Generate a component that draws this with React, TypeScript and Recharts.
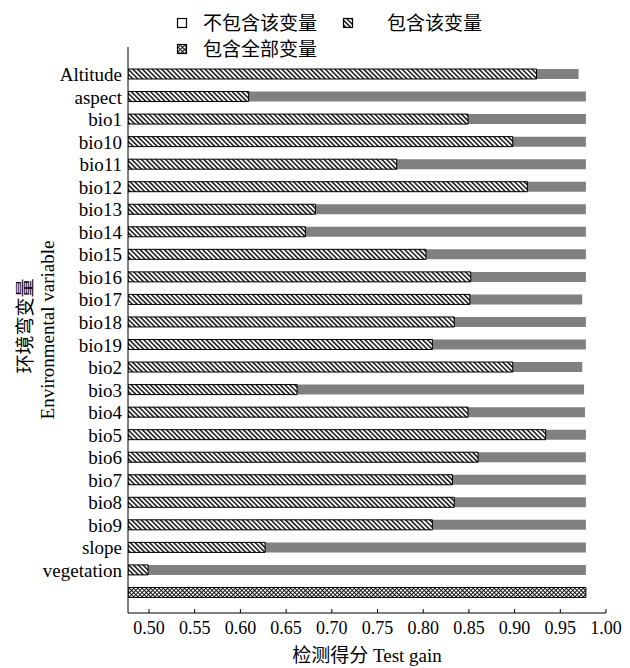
import React from 'react';
import { BarChart, Bar, XAxis, YAxis } from 'recharts';

document.body.style.margin = '0';

// Jackknife of environmental variables (test gain)
const variables = [
  'Altitude', 'aspect', 'bio1', 'bio10', 'bio11', 'bio12', 'bio13', 'bio14', 'bio15', 'bio16',
  'bio17', 'bio18', 'bio19', 'bio2', 'bio3', 'bio4', 'bio5', 'bio6', 'bio7', 'bio8', 'bio9',
  'slope', 'vegetation',
];
// 不包含该变量 (without variable)
const withoutGain = [
  0.970, 0.978, 0.978, 0.978, 0.978, 0.978, 0.978, 0.978, 0.978, 0.978,
  0.974, 0.978, 0.978, 0.974, 0.976, 0.977, 0.978, 0.978, 0.978, 0.978, 0.978,
  0.978, 0.978,
];
// 包含该变量 (with only variable)
const onlyGain = [
  0.924, 0.609, 0.849, 0.898, 0.771, 0.914, 0.682, 0.671, 0.803, 0.852,
  0.851, 0.834, 0.810, 0.898, 0.662, 0.849, 0.934, 0.860, 0.832, 0.834, 0.810,
  0.627, 0.499,
];
// 包含全部变量 (all variables)
const allGain = 0.978;
const xTicks = [0.5, 0.55, 0.6, 0.65, 0.7, 0.75, 0.8, 0.85, 0.9, 0.95, 1.0];

const legendItems = [
  { label: '不包含该变量', fill: '#fff', x: 177, y: 18, textX: 203 },
  { label: '包含该变量', fill: 'url(#lg-hatch)', x: 343, y: 18, textX: 387 },
  { label: '包含全部变量', fill: 'url(#lg-cross)', x: 177, y: 44, textX: 203 },
];

const data = [
  ...variables.map((name, i) => ({ name, without: withoutGain[i], only: onlyGain[i], all: null })),
  { name: '', without: null, only: null, all: allGain },
];

const FONT = "'Liberation Serif', 'Noto Sans CJK SC', serif";

function Patterns({ prefix }: { prefix: string }) {
  return (
    <defs>
      <pattern id={`${prefix}-hatch`} width="3.4" height="3.4" patternUnits="userSpaceOnUse" patternTransform="rotate(-45)">
        <rect width="3.4" height="3.4" fill="#fff" />
        <line x1="0.8" y1="0" x2="0.8" y2="3.4" stroke="#000" strokeWidth="1.4" />
      </pattern>
      <pattern id={`${prefix}-cross`} width="3" height="3" patternUnits="userSpaceOnUse" patternTransform="rotate(45)">
        <rect width="3" height="3" fill="#fff" />
        <line x1="0.5" y1="0" x2="0.5" y2="3" stroke="#000" strokeWidth="0.9" />
        <line x1="0" y1="0.5" x2="3" y2="0.5" stroke="#000" strokeWidth="0.9" />
      </pattern>
    </defs>
  );
}

function YTitle() {
  const txt = { fontFamily: FONT, fontSize: 19, fill: '#000' };
  return (
    <g>
      <text x={25} y={326} transform="rotate(-90 25 326)" textAnchor="middle" dominantBaseline="central" style={txt}>环境弯变量</text>
      <text x={47} y={330} transform="rotate(-90 47 330)" textAnchor="middle" dominantBaseline="central" style={txt}>Environmental variable</text>
    </g>
  );
}

export default function App() {
  return (
    <div style={{ position: 'relative', width: 630, height: 668, background: '#fff', fontFamily: FONT }}>
      <BarChart
        width={630}
        height={668}
        data={data}
        layout="vertical"
        margin={{ top: 47, right: 24, bottom: 0, left: 0 }}
        barGap={-10}
      >
        <Patterns prefix="ch" />
        <XAxis
          type="number"
          domain={[0.477, 1]}
          ticks={xTicks}
          allowDataOverflow
          tickFormatter={(v: number) => v.toFixed(2)}
          height={55}
          stroke="#000"
          tickSize={-4}
          tickMargin={12}
          tick={{ fill: '#000', fontSize: 18, fontFamily: FONT, style: { fontFamily: FONT } }}
          label={{ value: '检测得分 Test gain', position: 'insideBottom', offset: 6, fill: '#000', fontSize: 19, fontFamily: FONT, style: { fontFamily: FONT } }}
        />
        <YAxis
          type="category"
          dataKey="name"
          width={128}
          interval={0}
          padding={{ top: 16, bottom: 9 }}
          stroke="#000"
          tickLine={false}
          tickSize={0}
          tickMargin={6}
          tick={{ fill: '#000', fontSize: 19, fontFamily: FONT, style: { fontFamily: FONT } }}
          label={<YTitle />}
        />
        <Bar dataKey="without" barSize={10} fill="#808080" isAnimationActive={false} />
        <Bar dataKey="only" barSize={10} fill="url(#ch-hatch)" stroke="#000" strokeWidth={1} isAnimationActive={false} />
        <Bar dataKey="all" barSize={10} fill="url(#ch-cross)" stroke="#000" strokeWidth={1} isAnimationActive={false} />
      </BarChart>

      <svg width={630} height={60} style={{ position: 'absolute', left: 0, top: 0, pointerEvents: 'none' }}>
        <Patterns prefix="lg" />
        {legendItems.map((it) => (
          <g key={it.label}>
            <rect x={it.x + 0.5} y={it.y + 0.5} width={9} height={9} fill={it.fill} stroke="#000" strokeWidth={1.2} />
            <text x={it.textX} y={it.y + 5} dominantBaseline="central" style={{ fontSize: 19, fontFamily: FONT, fill: '#000' }}>{it.label}</text>
          </g>
        ))}
      </svg>
    </div>
  );
}
